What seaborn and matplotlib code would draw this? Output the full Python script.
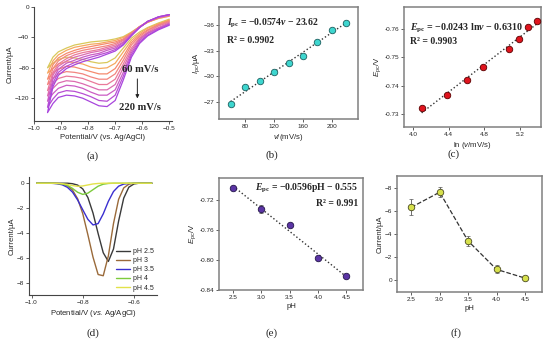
import numpy as np
import pandas as pd
import seaborn as sns
import matplotlib.pyplot as plt
from matplotlib.ticker import FormatStrFormatter

# ---------- data ----------
# (a) cyclic voltammograms at different scan rates
scan_rates = [60, 80, 100, 120, 140, 160, 180, 200, 220]
cv_colors = ['#D9C85A', '#F5A860', '#F58A6E', '#F2857F', '#EA7A9A',
             '#DC6BB0', '#CB5CC4', '#B84ED3', '#A845DD']
cv_E = [-0.95, -0.93, -0.91, -0.88, -0.85, -0.82, -0.79, -0.76,
        -0.73, -0.70, -0.67, -0.64, -0.61, -0.58, -0.54, -0.50]
cv_lower = [
    [-80, -74, -69, -66, -67, -69, -72, -74, -73, -67, -54, -41, -33, -27, -21, -16],
    [-87, -81, -75, -72, -73, -75, -79, -81, -80, -74, -59, -44, -35, -28, -22, -17],
    [-95, -87, -82, -78, -79, -82, -85, -88, -88, -81, -65, -47, -37, -30, -23, -18],
    [-102, -94, -88, -85, -86, -88, -92, -95, -95, -88, -70, -50, -39, -31, -24, -19],
    [-110, -101, -94, -91, -92, -94, -98, -102, -102, -95, -75, -54, -41, -33, -25, -20],
    [-117, -107, -100, -97, -98, -101, -105, -109, -109, -102, -80, -57, -42, -34, -27, -21],
    [-124, -114, -107, -103, -104, -107, -112, -116, -116, -109, -86, -60, -44, -35, -28, -22],
    [-132, -121, -113, -110, -111, -114, -118, -123, -124, -116, -91, -63, -46, -37, -29, -23],
    [-139, -127, -119, -116, -117, -120, -125, -130, -131, -123, -96, -66, -48, -38, -30, -24],
]
cv_upper = [
    [-80, -66, -59, -54, -50, -48, -46, -45, -44, -42, -39, -33, -26, -20, -15, -12],
    [-87, -71, -63, -57, -53, -51, -49, -48, -46, -44, -40, -34, -26, -20, -15, -12],
    [-95, -76, -67, -61, -57, -54, -52, -50, -48, -46, -42, -34, -26, -20, -14, -11],
    [-102, -81, -71, -64, -60, -57, -55, -53, -51, -48, -43, -35, -26, -20, -14, -11],
    [-110, -86, -75, -68, -63, -60, -58, -56, -53, -50, -44, -35, -26, -19, -14, -11],
    [-117, -90, -78, -71, -66, -63, -60, -58, -55, -52, -46, -36, -27, -19, -14, -11],
    [-124, -95, -82, -74, -70, -66, -63, -61, -57, -54, -47, -37, -27, -19, -13, -10],
    [-132, -100, -86, -78, -73, -69, -66, -63, -60, -56, -49, -37, -27, -19, -13, -10],
    [-139, -105, -90, -81, -76, -72, -69, -66, -62, -58, -50, -38, -27, -19, -13, -10],
]

# (b) peak current vs scan rate
v_rate = [60, 80, 100, 120, 140, 160, 180, 200, 220]
ipc = [-26.7, -28.7, -29.4, -30.5, -31.6, -32.4, -34.0, -35.4, -36.2]

# (c) peak potential vs ln(v)
ln_v = [4.094, 4.382, 4.605, 4.787, 5.075, 5.193, 5.298, 5.394]
epc_lnv = [-0.7320, -0.7367, -0.7420, -0.7465, -0.7529, -0.7564, -0.7608, -0.7629]

# (d) DPV at different pH
dpv_E = [-0.98, -0.96, -0.94, -0.92, -0.90, -0.88, -0.86, -0.84, -0.82, -0.80,
         -0.78, -0.76, -0.74, -0.72, -0.70, -0.68, -0.66, -0.64, -0.62, -0.60,
         -0.58, -0.56, -0.54, -0.53]
ph_labels = ['pH 2.5', 'pH 3', 'pH 3.5', 'pH 4', 'pH 4.5']
ph_colors = ['#3a3a3a', '#9A6A3A', '#3A2FD0', '#7CCB3C', '#E2E24A']
dpv_I = [
    [0, 0, 0, 0, 0, 0, 0, -0.04, -0.15, -0.46, -1.15, -2.40, -4.05, -5.60,
     -6.30, -5.30, -3.05, -1.20, -0.32, -0.06, 0, 0, 0, 0],
    [0, 0, 0, 0, -0.02, -0.07, -0.20, -0.55, -1.25, -2.45, -4.15, -5.95, -7.35,
     -7.45, -5.85, -3.25, -1.30, -0.38, -0.08, 0, 0, 0, 0, 0],
    [0, 0, 0, -0.01, -0.04, -0.13, -0.33, -0.72, -1.35, -2.14, -2.91, -3.36,
     -3.25, -2.47, -1.46, -0.67, -0.24, -0.07, -0.02, 0, 0, 0, 0, 0],
    [0, 0, 0, 0, -0.02, -0.06, -0.17, -0.42, -0.73, -0.90, -0.80, -0.52, -0.24,
     -0.08, -0.02, 0, 0, 0, 0, 0, 0, 0, 0, 0],
    [0, 0, 0, 0, -0.01, -0.04, -0.10, -0.19, -0.25, -0.22, -0.14, -0.06, -0.02,
     0, 0, 0, 0, 0, 0, 0, 0, 0, 0, 0],
]

# (e) peak potential vs pH
ph = [2.5, 3.0, 3.5, 4.0, 4.5]
epc_ph = [-0.7048, -0.732, -0.753, -0.798, -0.822]
epc_ph_err = [0.002, 0.005, 0.002, 0.002, 0.002]

# (f) peak current vs pH
ipc_ph = [-6.3, -7.6, -3.4, -0.95, -0.2]
ipc_ph_err = [0.7, 0.45, 0.45, 0.35, 0.06]

# ---------- style ----------
sns.set_style('ticks')
plt.rcParams['font.family'] = ['Liberation Sans', 'DejaVu Sans']
plt.rcParams['mathtext.fontset'] = 'custom'
plt.rcParams['mathtext.rm'] = 'Liberation Serif:bold'
plt.rcParams['mathtext.it'] = 'Liberation Serif:bold:italic'
plt.rcParams['mathtext.bf'] = 'Liberation Serif:bold'
plt.rcParams['mathtext.sf'] = 'Liberation Sans'
plt.rcParams['mathtext.tt'] = 'Liberation Sans:italic'

SERIF = ['Liberation Serif', 'DejaVu Serif']
TICK = 4.6
LAB = 5.6
EQ = 7

fig = plt.figure(figsize=(5.5, 3.43), dpi=100)


def add_ax(l, t, r, b):
    return fig.add_axes([l / 550, 1 - b / 343, (r - l) / 550, (b - t) / 343])


def style_box(ax):
    for s in ax.spines.values():
        s.set_color('#808080')
        s.set_linewidth(1.1)
    ax.tick_params(labelsize=TICK, length=2, width=0.6, pad=1.5, color='#444')


def style_open(ax):
    sns.despine(ax=ax)
    for s in ['left', 'bottom']:
        ax.spines[s].set_color('#444')
        ax.spines[s].set_linewidth(0.8)
    ax.tick_params(labelsize=TICK, length=2, width=0.6, pad=1.5, color='#444')


# (a)
ax = add_ax(34, 7, 172, 121)
for i, rate in enumerate(scan_rates):
    E_loop = cv_E[::-1] + cv_E[1:]
    I_loop = cv_lower[i][::-1] + cv_upper[i][1:]
    sns.lineplot(x=E_loop, y=I_loop, sort=False, estimator=None,
                 color=cv_colors[i], lw=0.9, ax=ax)
ax.set_xlim(-1.0, -0.49)
ax.set_ylim(-150, 0)
ax.set_xticks([-1.0, -0.9, -0.8, -0.7, -0.6, -0.5])
ax.set_yticks([0, -40, -80, -120])
ax.set_xlabel('Potential/V (vs. Ag/AgCl)', fontsize=LAB, labelpad=2)
ax.set_ylabel('Current/µA', fontsize=LAB, labelpad=1)
style_open(ax)
ax.text(-0.608, -82, '60 mV/s', fontsize=7.6, family=SERIF,
        weight='bold', ha='center', va='center')
ax.text(-0.608, -132, '220 mV/s', fontsize=7.6, family=SERIF,
        weight='bold', ha='center', va='center')
ax.annotate('', xy=(-0.618, -124), xytext=(-0.618, -91),
            arrowprops=dict(arrowstyle='-|>', color='#222', lw=0.7,
                            mutation_scale=5))

# (b)
ax = add_ax(219, 7, 358, 119)
sns.regplot(x=v_rate, y=ipc, ci=None, scatter=False, ax=ax,
            line_kws=dict(color='#333', ls=':', lw=1.0))
sns.scatterplot(x=v_rate, y=ipc, color='#3ED6CF', edgecolor='#1d5f5f',
                linewidth=0.6, s=22, ax=ax, zorder=3)
ax.set_xlim(44, 236)
ax.set_ylim(-25, -38.1)
ax.set_xticks([80, 120, 160, 200])
ax.set_yticks([-36, -33, -30, -27])
ax.set_xlabel(r'$\mathtt{v}$/(mV/s)', fontsize=LAB, labelpad=2)
ax.set_ylabel(r'$\mathtt{I}_{\mathsf{pc}}$/µA', fontsize=LAB, labelpad=1)
style_box(ax)
ax.text(0.06, 0.855, r'$I_{\mathrm{pc}}$ = −0.0574$v$ − 23.62',
        transform=ax.transAxes, fontsize=EQ, family=SERIF, weight='bold',
        va='center')
ax.text(0.06, 0.705, 'R² = 0.9902', transform=ax.transAxes, fontsize=EQ,
        family=SERIF, weight='bold', va='center')

# (c)
ax = add_ax(404, 7, 541, 127)
sns.regplot(x=ln_v, y=epc_lnv, ci=None, scatter=False, ax=ax,
            line_kws=dict(color='#333', ls=':', lw=1.0))
sns.scatterplot(x=ln_v, y=epc_lnv, color='#E0141E', edgecolor='#5a0000',
                linewidth=0.6, s=22, ax=ax, zorder=3)
ax.set_xlim(3.895, 5.44)
ax.set_ylim(-0.7254, -0.7678)
ax.set_xticks([4.0, 4.4, 4.8, 5.2])
ax.set_yticks([-0.76, -0.75, -0.74, -0.73])
ax.yaxis.set_major_formatter(FormatStrFormatter('%.2f'))
ax.xaxis.set_major_formatter(FormatStrFormatter('%.1f'))
ax.set_xlabel(r'ln ($\mathtt{v}$/mV/s)', fontsize=LAB, labelpad=2)
ax.set_ylabel(r'$\mathtt{E}_{\mathsf{pc}}$/V', fontsize=LAB, labelpad=1)
style_box(ax)
ax.text(0.045, 0.82, r'$E_{\mathrm{pc}}$ = −0.0243 ln$v$ − 0.6310',
        transform=ax.transAxes, fontsize=7.2, family=SERIF, weight='bold',
        va='center')
ax.text(0.045, 0.71, 'R² = 0.9903', transform=ax.transAxes, fontsize=EQ,
        family=SERIF, weight='bold', va='center')

# (d)
ax = add_ax(29, 177, 157, 295)
for lab, col, cur in zip(ph_labels, ph_colors, dpv_I):
    sns.lineplot(x=dpv_E, y=cur, color=col, lw=1.0, label=lab, ax=ax)
ax.set_xlim(-1.01, -0.51)
ax.set_ylim(-9, 0.5)
ax.set_xticks([-1.0, -0.8, -0.6])
ax.set_yticks([0, -2, -4, -6, -8])
ax.set_xlabel(r'Potential/V ($\mathtt{vs}$. Ag/AgCl)', fontsize=LAB, labelpad=2)
ax.set_ylabel('Current/µA', fontsize=LAB, labelpad=1)
style_open(ax)
ax.legend(loc='lower right', fontsize=5, frameon=False, handlelength=2.0,
          labelspacing=0.3, borderaxespad=0.1, handletextpad=0.4)

# (e)
ax = add_ax(219, 178, 363, 290)
sns.regplot(x=ph, y=epc_ph, ci=None, scatter=False, ax=ax,
            line_kws=dict(color='#333', ls=':', lw=1.0))
ax.errorbar(ph, epc_ph, yerr=epc_ph_err, fmt='none', ecolor='#444',
            elinewidth=0.6, capsize=1.2, capthick=0.5)
sns.scatterplot(x=ph, y=epc_ph, color='#5B35A5', edgecolor='#24164a',
                linewidth=0.6, s=22, ax=ax, zorder=3)
ax.set_xlim(2.25, 4.8)
ax.set_ylim(-0.84, -0.691)
ax.set_xticks([2.5, 3.0, 3.5, 4.0, 4.5])
ax.set_yticks([-0.72, -0.76, -0.80, -0.84])
ax.yaxis.set_major_formatter(FormatStrFormatter('%.2f'))
ax.set_xlabel('pH', fontsize=LAB, labelpad=2)
ax.set_ylabel(r'$\mathtt{E}_{\mathsf{pc}}$/V', fontsize=LAB, labelpad=1)
style_box(ax)
ax.text(0.965, 0.91, r'$E_{\mathrm{pc}}$ = −0.0596pH − 0.555',
        transform=ax.transAxes, fontsize=EQ, family=SERIF, weight='bold',
        va='center', ha='right')
ax.text(0.965, 0.77, 'R² = 0.991', transform=ax.transAxes, fontsize=EQ,
        family=SERIF, weight='bold', va='center', ha='right')

# (f)
ax = add_ax(397, 176, 542, 292)
sns.lineplot(x=ph, y=ipc_ph, color='#333', ls='--', lw=0.9, ax=ax)
ax.errorbar(ph, ipc_ph, yerr=ipc_ph_err, fmt='none', ecolor='#555',
            elinewidth=0.6, capsize=1.5, capthick=0.5)
sns.scatterplot(x=ph, y=ipc_ph, color='#D6E04C', edgecolor='#4a4a20',
                linewidth=0.6, s=22, ax=ax, zorder=3)
ax.set_xlim(2.25, 4.8)
ax.set_ylim(1, -9)
ax.set_xticks([2.5, 3.0, 3.5, 4.0, 4.5])
ax.set_yticks([-8, -6, -4, -2, 0])
ax.set_xlabel('pH', fontsize=LAB, labelpad=2)
ax.set_ylabel('Current/µA', fontsize=LAB, labelpad=1)
style_box(ax)

# panel letters
for lab, x, y in [('(a)', 93, 156), ('(b)', 272, 155), ('(c)', 454, 154),
                  ('(d)', 93, 333), ('(e)', 272, 333), ('(f)', 456, 333)]:
    fig.text(x / 550, 1 - y / 343, lab, fontsize=8, family=SERIF,
             ha='center', va='center')

fig.savefig('out.png', dpi=100)
